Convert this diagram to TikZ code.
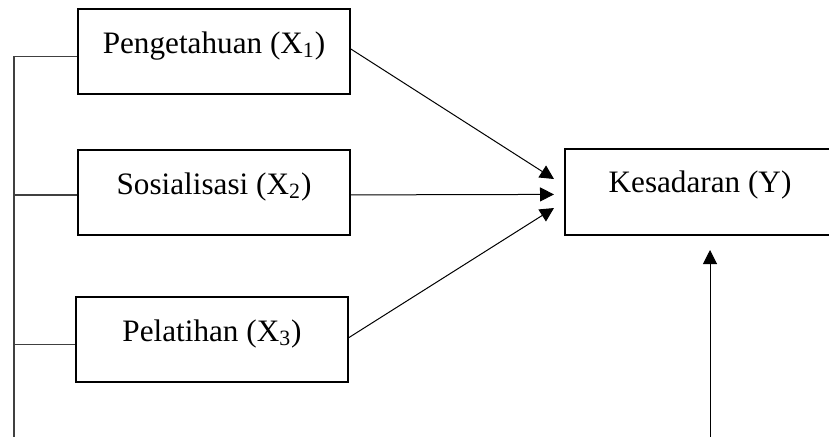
\documentclass[tikz,border=0pt]{standalone}
\usepackage{fontspec}
\setmainfont{Liberation Serif}
\usetikzlibrary{arrows.meta,calc}
\tikzset{
  varbox/.style={draw,line width=1pt,anchor=north west,minimum width=136pt,inner xsep=0pt,inner ysep=0pt,text height=22pt,text depth=20.5pt},
  link/.style={line width=0.5pt,-{Triangle[length=7pt,width=7pt]}},
  side/.style={draw=black!75,line width=0.7pt}
}
\begin{document}
\begin{tikzpicture}[x=0.5pt,y=-0.5pt,font=\fontsize{15.6}{18}\selectfont]
	\clip (0,0) rectangle (829,436);
	\node[varbox] (x1) at (77,8) {Pengetahuan (X\textsubscript{1})};
	\node[varbox] (x2) at (77,149) {Sosialisasi (X\textsubscript{2})};
	\node[varbox] (x3) at (75,296) {Pelatihan (X\textsubscript{3})};
	\node[draw,line width=1pt,inner sep=0pt,minimum width=160pt,minimum height=43pt,anchor=north west] (y) at (564,148) {};
	\node[anchor=base,inner sep=0pt] (ylabel) at (700,192) {Kesadaran (Y)};
	\coordinate (base) at (14,440);
	\coordinate (e) at (710,440);
	\coordinate (s1) at ([yshift=-2.5pt]x1.west);
	\coordinate (s2) at ([yshift=-1.2pt]x2.west);
	\coordinate (s3) at ([yshift=-2.5pt]x3.west);
	% garis kiri
	\draw[side] (s1) -| (base);
	\draw[side] (s2) -- (base|-s2);
	\draw[side] (s3) -- (base|-s3);
	% panah ke Y
	\draw[link] ([yshift=1.2pt]x1.east) -- ([xshift=-5pt,yshift=6.5pt]y.west);
	\draw[link] ([yshift=-1.2pt]x2.east) -- ([xshift=-5pt,yshift=-1.2pt]y.west);
	\draw[link] ([yshift=1pt]x3.east) -- ([xshift=-5pt,yshift=-8pt]y.west);
	\draw[link] (e) -- ([yshift=-7pt]e|-y.south);
\end{tikzpicture}
\end{document}
